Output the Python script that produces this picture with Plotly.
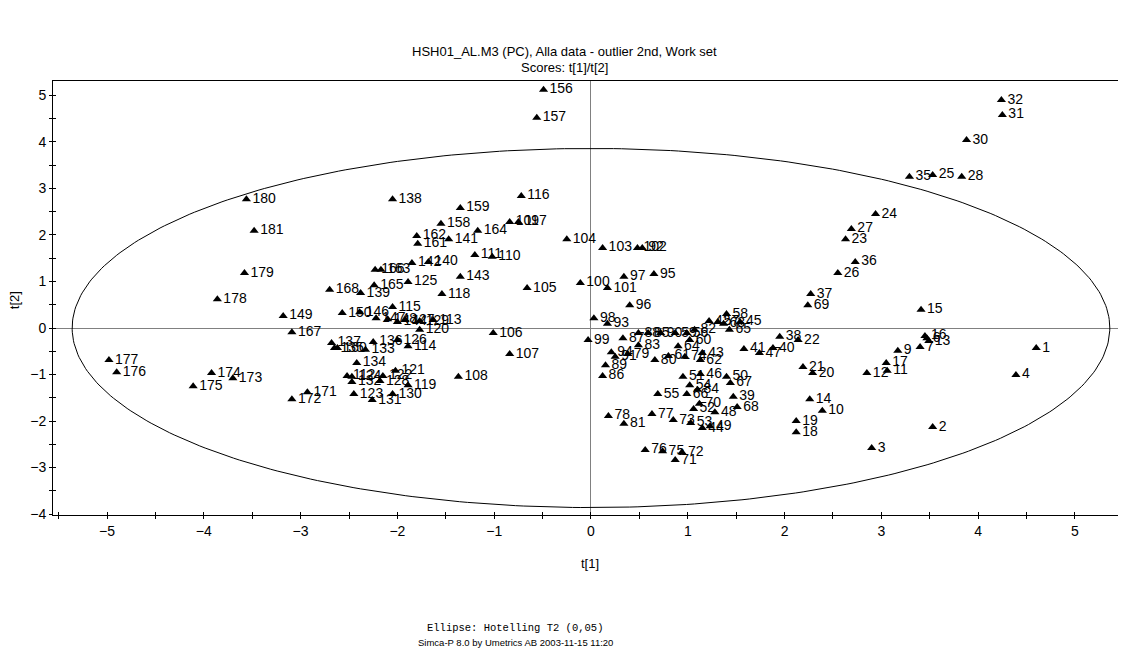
import numpy as np
import plotly.graph_objects as go

# ---- data ----
ids = [1, 2, 3, 4, 6, 7, 9, 10, 11, 12, 13, 14, 15, 16, 17, 18, 19, 20, 21, 22,
       23, 24, 25, 26, 27, 28, 30, 31, 32, 35, 36, 37, 38, 39, 40, 41, 42, 43, 44, 45,
       46, 47, 48, 49, 50, 51, 52, 53, 54, 55, 56, 57, 58, 59, 60, 61, 62, 63, 64, 65,
       66, 67, 68, 69, 70, 71, 72, 73, 74, 75, 76, 77, 78, 79, 80, 81, 82, 83, 84, 85,
       86, 87, 88, 89, 90, 91, 92, 93, 94, 95, 96, 97, 98, 99, 100, 101, 102, 103, 104, 105, 106,
       107, 108, 109, 110, 111, 112, 113, 114, 115, 116, 117, 118, 119, 120, 121, 122, 123, 124, 125, 126,
       127, 128, 129, 130, 131, 132, 133, 134, 135, 136, 137, 138, 139, 140, 141, 142, 143, 144, 146, 147,
       148, 149, 150, 156, 157, 158, 159, 160, 161, 162, 163, 164, 165, 166, 167, 168, 171, 172, 173, 174,
       175, 176, 177, 178, 179, 180, 181]
t1 = [4.60, 3.53, 2.90, 4.39, 3.47, 3.40, 3.17, 2.39, 3.06, 2.85, 3.49, 2.26, 3.41, 3.45, 3.05, 2.12, 2.12, 2.29, 2.19, 2.14,
      2.63, 2.94, 3.53, 2.55, 2.69, 3.83, 3.88, 4.25, 4.24, 3.29, 2.73, 2.27, 1.95, 1.47, 1.88, 1.58, 1.22, 1.15, 1.15, 1.54,
      1.13, 1.74, 1.28, 1.23, 1.40, 0.95, 1.06, 1.03, 1.02, 0.69, 0.99, 1.31, 1.40, 0.87, 1.02, 0.80, 1.13, 1.37, 0.90, 1.43,
      0.99, 1.44, 1.51, 2.24, 1.12, 0.87, 0.94, 0.85, 0.97, 0.74, 0.56, 0.63, 0.18, 0.38, 0.66, 0.34, 1.07, 0.49, 1.10, 0.59,
      0.12, 0.33, 0.49, 0.15, 0.72, 0.25, 0.53, 0.17, 0.21, 0.65, 0.40, 0.34, 0.03, -0.03, -0.11, 0.17, 0.48, 0.12, -0.25, -0.66, -1.01,
      -0.84, -1.37, -0.84, -1.02, -1.20, -2.52, -1.63, -1.89, -2.05, -0.72, -0.75, -1.54, -1.89, -1.77, -2.02, -2.15, -2.45, -2.47, -1.89, -2.00,
      -1.92, -2.18, -1.77, -2.05, -2.26, -2.47, -2.33, -2.42, -2.65, -2.25, -2.68, -2.05, -2.38, -1.68, -1.47, -1.85, -1.35, -2.00, -2.39, -2.22,
      -2.10, -3.18, -2.57, -0.49, -0.56, -1.55, -1.35, -2.62, -1.79, -1.80, -2.17, -1.17, -2.24, -2.23, -3.09, -2.70, -2.93, -3.09, -3.70, -3.92,
      -4.11, -4.90, -4.98, -3.86, -3.58, -3.56, -3.48]
t2 = [-0.43, -2.13, -2.58, -1.01, -0.22, -0.41, -0.49, -1.78, -0.92, -0.97, -0.28, -1.53, 0.39, -0.17, -0.75, -2.24, -2.00, -0.97, -0.84, -0.26,
      1.91, 2.45, 3.29, 1.18, 2.13, 3.25, 4.04, 4.58, 4.90, 3.25, 1.42, 0.73, -0.19, -1.48, -0.43, -0.45, 0.15, -0.54, -2.15, 0.13,
      -0.99, -0.54, -1.81, -2.11, -1.05, -1.05, -1.74, -2.04, -1.23, -1.42, -0.11, 0.13, 0.30, -0.11, -0.26, -0.60, -0.69, 0.09, -0.39, -0.04,
      -1.42, -1.18, -1.70, 0.49, -1.63, -2.84, -2.67, -1.98, -0.62, -2.65, -2.62, -1.85, -1.89, -0.56, -0.69, -2.06, -0.04, -0.37, -1.33, -0.11,
      -1.03, -0.22, -0.11, -0.80, -0.11, -0.62, 1.72, 0.09, -0.52, 1.16, 0.49, 1.10, 0.21, -0.26, 0.97, 0.86, 1.72, 1.72, 1.91, 0.86, -0.11,
      -0.56, -1.05, 2.28, 1.53, 1.57, -1.03, 0.17, -0.39, 0.45, 2.84, 2.28, 0.73, -1.23, -0.04, -0.92, -1.03, -1.42, -1.05, 0.99, -0.26,
      0.17, -1.14, 0.15, -1.42, -1.55, -1.16, -0.47, -0.75, -0.43, -0.30, -0.32, 2.77, 0.75, 1.42, 1.91, 1.40, 1.10, 0.13, 0.34, 0.21,
      0.19, 0.26, 0.32, 5.12, 4.52, 2.24, 2.58, -0.43, 1.81, 1.98, 1.25, 2.09, 0.92, 1.25, -0.09, 0.82, -1.38, -1.53, -1.08, -0.97,
      -1.25, -0.95, -0.69, 0.62, 1.18, 2.77, 2.09]
assert len(ids) == len(t1) == len(t2)

# Hotelling T2 (0.05) ellipse semi-axes
ellipse_a = 5.36
ellipse_b = 3.86

x_range = [-5.558, 5.517]
y_range = [-4.02, 5.31]

theta = np.linspace(0, 2 * np.pi, 400)
ex = ellipse_a * np.cos(theta)
ey = ellipse_b * np.sin(theta)

FONT = "Liberation Sans, Arial, sans-serif"

fig = go.Figure()
# ellipse drawn on the overlay axes (which carry the inner half of the crossing ticks)
fig.add_trace(go.Scatter(x=ex, y=ey, mode="lines", xaxis="x2", yaxis="y2",
                         line=dict(color="black", width=1), hoverinfo="skip"))
fig.add_trace(go.Scatter(x=t1, y=t2, mode="markers+text",
                         text=[str(i) for i in ids], textposition="middle right",
                         marker=dict(symbol="triangle-up", size=8, color="black"),
                         textfont=dict(family=FONT, size=14, color="black")))

axis_common = dict(showgrid=False, showline=True, linecolor="black", linewidth=1,
                   mirror=True, ticks="outside", ticklen=3, tickcolor="black",
                   zeroline=True, zerolinecolor="#808080", zerolinewidth=1,
                   tickfont=dict(family=FONT, size=14, color="black"),
                   tick0=0, dtick=1,
                   minor=dict(ticks="outside", ticklen=3, dtick=0.5, tickcolor="black"))

overlay_common = dict(showgrid=False, showline=False, zeroline=False, showticklabels=False,
                      ticks="inside", ticklen=3, tickcolor="black", tick0=0, dtick=1,
                      minor=dict(ticks="inside", ticklen=3, dtick=0.5, tickcolor="black"))


def ann(text, x, y, size, family=FONT, angle=0):
    return dict(text=text, x=x, y=y, xref="paper", yref="paper", showarrow=False,
                xanchor="center", yanchor="middle", textangle=angle,
                font=dict(family=family, size=size, color="black"))


fig.update_layout(
    width=1118, height=647,
    margin=dict(l=45, r=1, t=73, b=140),
    paper_bgcolor="white", plot_bgcolor="white",
    showlegend=False,
    xaxis=dict(range=x_range, **axis_common),
    yaxis=dict(range=y_range, **axis_common),
    xaxis2=dict(range=x_range, overlaying="x", side="bottom", anchor="y2", **overlay_common),
    yaxis2=dict(range=y_range, overlaying="y", side="left", anchor="x2", **overlay_common),
    annotations=[
        ann("HSH01_AL.M3 (PC), Alla data - outlier 2nd, Work set", 0.477, 1.067, 13),
        ann("Scores: t[1]/t[2]", 0.477, 1.032, 13),
        ann("t[1]", 0.501, -0.111, 13),
        ann("t[2]", -0.0364, 0.495, 13, angle=-90),
        ann("Ellipse: Hotelling T2 (0,05)", 0.431, -0.260, 10.5,
            family="Liberation Mono, Courier New, monospace"),
        ann("Simca-P 8.0 by Umetrics AB 2003-11-15 11:20", 0.431, -0.293, 9.5),
    ],
)

fig.write_html("out.html")
